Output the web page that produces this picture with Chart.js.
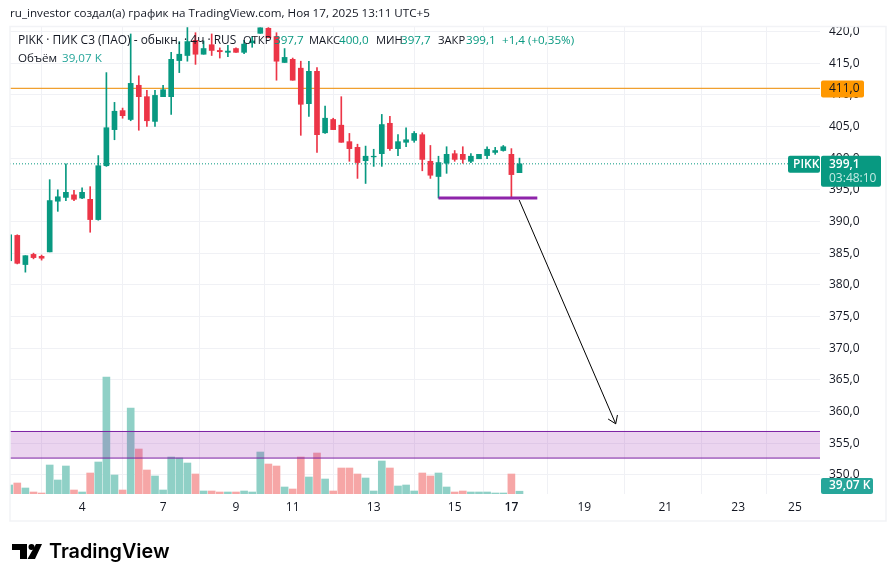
<!DOCTYPE html>
<html lang="ru">
<head>
<meta charset="utf-8">
<title>PIKK 4h</title>
<style>
  html, body { margin: 0; padding: 0; background: #fff; }
  canvas { display: block; }
</style>
</head>
<body>
<canvas id="chart" width="896" height="582"></canvas>
<script src="https://cdn.jsdelivr.net/npm/chart.js@4/dist/chart.umd.min.js"></script>
<script>
// 4h candles, index 0 is the oldest bar
const opens = [383.8, 387.8, 383.2, 384.8, 384.5, 385.2, 393.2, 393.8, 394.2, 393.7, 393.5, 390.3, 398.8, 404.5, 407.5, 406.1,
  411.5, 409.7, 405.8, 409.7, 409.7, 415.4, 416.2, 418.6, 416.4, 417.9, 417.0, 416.7, 417.3, 416.7, 418.2, 419.7,
  420.5, 419.2, 415.1, 415.6, 414.2, 408.6, 413.7, 404.0, 406.1, 405.2, 402.6, 401.7, 399.6, 400.2, 400.7, 405.5,
  401.5, 402.5, 402.8, 403.7, 399.5, 397.1, 399.2, 400.7, 400.6, 399.5, 399.9, 400.4, 400.9, 401.2, 400.6, 397.7];
const highs = [388.0, 387.9, 384.6, 385.0, 384.7, 396.6, 395.0, 399.1, 394.9, 395.3, 395.5, 400.4, 413.5, 408.8, 407.9, 419.6,
  413.0, 410.7, 410.7, 411.5, 416.7, 418.4, 420.7, 419.8, 418.5, 419.6, 417.4, 417.8, 417.4, 418.6, 419.2, 420.7,
  421.7, 419.8, 417.3, 415.8, 415.3, 415.3, 414.3, 408.2, 406.3, 409.7, 403.9, 402.2, 401.9, 401.4, 406.9, 406.6,
  403.7, 404.8, 404.2, 404.0, 402.0, 400.3, 401.8, 401.2, 401.8, 400.7, 400.6, 401.8, 401.7, 402.0, 401.5, 400.0];
const lows = [383.8, 383.3, 382.0, 384.1, 383.9, 385.2, 391.6, 393.3, 393.3, 393.6, 388.3, 390.2, 398.7, 402.9, 406.3, 405.9,
  404.4, 405.0, 405.0, 409.7, 406.9, 413.5, 415.3, 414.8, 416.4, 416.2, 415.8, 416.0, 416.7, 416.5, 417.5, 419.7,
  419.0, 412.3, 415.1, 412.3, 403.6, 406.6, 400.9, 403.9, 404.5, 402.5, 399.5, 396.8, 396.0, 398.7, 398.7, 401.2,
  400.4, 401.8, 402.5, 398.0, 396.8, 393.7, 397.6, 399.5, 399.2, 399.3, 399.9, 399.9, 400.6, 401.1, 393.7, 397.7];
const closes = [387.9, 383.4, 384.6, 384.3, 384.2, 393.3, 393.9, 394.6, 393.5, 394.6, 390.3, 398.8, 404.8, 407.4, 406.7, 411.8,
  409.7, 405.9, 409.9, 410.8, 415.6, 416.4, 418.4, 416.4, 417.3, 417.0, 416.8, 416.9, 416.7, 418.0, 418.5, 420.6,
  419.0, 415.3, 415.9, 412.3, 408.5, 413.7, 403.7, 406.3, 404.5, 402.5, 401.5, 399.3, 400.3, 400.3, 405.3, 401.5,
  402.6, 402.9, 403.9, 399.8, 397.3, 399.3, 400.6, 399.8, 399.8, 400.3, 400.6, 401.4, 401.2, 401.8, 397.4, 399.1];
// thousands of shares
const volumes = [126, 154, 84, 28, 14, 406, 196, 392, 56, 28, 294, 448, 1638, 266, 56, 1204,
  630, 336, 252, 56, 518, 504, 434, 280, 42, 42, 28, 28, 28, 42, 28, 588,
  420, 392, 98, 70, 518, 238, 574, 210, 42, 364, 364, 280, 224, 42, 462, 364,
  112, 126, 42, 294, 252, 294, 98, 28, 42, 28, 28, 28, 14, 14, 280, 39.07];

const priceTicks = [350, 355, 360, 365, 370, 375, 380, 385, 390, 395, 400, 405, 410, 415, 420];
const dayTicks = [9, 19, 28, 35, 45, 55, 62, 71, 81, 90, 97];
const dayLabels = ["4", "7", "9", "11", "13", "15", "17", "19", "21", "23", "25"];

const lastPrice = 399.1;
const resistance = 411;
const supportY = 393.7;
const supportX = [53, 65.2];
const zoneY = [356.85, 352.65];
const arrowX = [62.96, 74.88];
const arrowY = [393.4, 358.06];

const xRange = [0.1, 100.1];
const GREEN = "#089981";
const RED = "#ec3547";
const INK = "#131722";
const FONT = "'Open Sans', sans-serif";
const TEXT_FONT = "11.65px " + FONT;
const CAPS_FONT = "11.2px " + FONT;

const candleColors = opens.map((o, i) => (closes[i] >= o ? GREEN : RED));
const volumeColors = opens.map((o, i) => (closes[i] >= o ? "#8fd0c6" : "#f6a6a6"));

function series(pick) {
  return opens.map((_, i) => ({ x: i, y: pick(i) }));
}

function levelLine(y, color, extra) {
  return Object.assign({
    type: "line",
    yAxisID: "y",
    data: xRange.map((x) => ({ x, y })),
    borderColor: color,
    borderWidth: 1,
    pointRadius: 0,
    order: 1
  }, extra);
}

function drawText(ctx, text, x, y, color, font) {
  ctx.font = font || TEXT_FONT;
  ctx.fillStyle = color;
  ctx.textAlign = "left";
  ctx.textBaseline = "middle";
  ctx.fillText(text, x, y);
}

function drawLogo(ctx) {
  ctx.fillStyle = "#000";
  ctx.beginPath();
  ctx.moveTo(12, 544);
  ctx.lineTo(27, 544);
  ctx.lineTo(27, 559);
  ctx.lineTo(20, 559);
  ctx.lineTo(20, 550);
  ctx.lineTo(12, 550);
  ctx.closePath();
  ctx.fill();
  ctx.beginPath();
  ctx.arc(31.5, 547, 3, 0, Math.PI * 2);
  ctx.fill();
  ctx.beginPath();
  ctx.moveTo(36, 544);
  ctx.lineTo(42, 544);
  ctx.lineTo(35, 559);
  ctx.lineTo(27.5, 559);
  ctx.closePath();
  ctx.fill();
  drawText(ctx, "TradingView", 49, 552, "#000", "600 19.8px Inter, sans-serif");
}

function drawBox(ctx, x, y, w, h, color) {
  ctx.fillStyle = color;
  ctx.beginPath();
  ctx.roundRect(x, y, w, h, 2);
  ctx.fill();
}

// header, legend, axis badges and the arrow head go on top of the datasets
const overlay = {
  id: "overlay",
  afterDraw(chart) {
    const ctx = chart.ctx;
    const x = chart.scales.x;
    const y = chart.scales.y;
    const vol = chart.scales.vol;

    ctx.save();

    // arrow head
    const tipX = x.getPixelForValue(arrowX[1]);
    const tipY = y.getPixelForValue(arrowY[1]);
    const angle = Math.atan2(tipY - y.getPixelForValue(arrowY[0]), tipX - x.getPixelForValue(arrowX[0]));
    ctx.strokeStyle = "#000";
    ctx.lineWidth = 1;
    ctx.beginPath();
    ctx.moveTo(tipX - 9 * Math.cos(angle - 0.6), tipY - 9 * Math.sin(angle - 0.6));
    ctx.lineTo(tipX, tipY);
    ctx.lineTo(tipX - 9 * Math.cos(angle + 0.6), tipY - 9 * Math.sin(angle + 0.6));
    ctx.stroke();

    // top strip, also trims the 420 label
    ctx.fillStyle = "#fff";
    ctx.fillRect(0, 0, 896, 26);
    drawText(ctx, "ru_investor создал(а) график на TradingView.com, Ноя 17, 2025 13:11 UTC+5", 10, 14, INK);

    // pane frame
    ctx.strokeStyle = "#f2f3f6";
    ctx.lineWidth = 1.5;
    ctx.strokeRect(10, 26.5, 876, 494.5);

    // legend
    drawText(ctx, "PIKK · ПИК С3 (ПАО) - обыкн. · 4ч · RUS", 18, 41, INK, "11.95px " + FONT);
    drawText(ctx, "ОТКР", 243, 41, INK, CAPS_FONT);
    drawText(ctx, "397,7", 274, 41, GREEN);
    drawText(ctx, "МАКС", 309, 41, INK, CAPS_FONT);
    drawText(ctx, "400,0", 339, 41, GREEN);
    drawText(ctx, "МИН", 376, 41, INK, CAPS_FONT);
    drawText(ctx, "397,7", 401, 41, GREEN);
    drawText(ctx, "ЗАКР", 438, 41, INK, CAPS_FONT);
    drawText(ctx, "399,1", 466, 41, GREEN);
    drawText(ctx, "+1,4 (+0,35%)", 502, 41, GREEN);
    drawText(ctx, "Объём", 18, 59, INK);
    drawText(ctx, "39,07 K", 62, 59, "#26a69a");

    // resistance badge
    const resY = y.getPixelForValue(resistance);
    drawBox(ctx, 821, resY - 8, 43, 17, "#ff9800");
    drawText(ctx, "411,0", 829, resY + 0.5, INK, "12px " + FONT);

    // last price badges
    const lastY = y.getPixelForValue(lastPrice);
    drawBox(ctx, 788, lastY - 8, 32, 17, GREEN);
    drawText(ctx, "PIKK", 793, lastY + 0.5, "#fff", "600 12px " + FONT);
    drawBox(ctx, 821, lastY - 8, 60, 31, GREEN);
    drawText(ctx, "399,1", 829, lastY + 0.5, "#fff", "600 12px " + FONT);
    drawText(ctx, "03:48:10", 829, lastY + 15, "#c5ebe4", "12px " + FONT);

    // current volume badge
    const volY = vol.getPixelForValue(0);
    drawBox(ctx, 821, volY - 16, 52, 16, "#26a69a");
    drawText(ctx, "39,07 K", 829, volY - 8, "#fff", "600 12px " + FONT);

    drawLogo(ctx);
    ctx.restore();
  }
};

new Chart(document.getElementById("chart"), {
  type: "bar",
  data: {
    datasets: [
      {
        yAxisID: "vol",
        data: series((i) => volumes[i]),
        backgroundColor: volumeColors,
        barThickness: 7,
        grouped: false,
        order: 7
      },
      // zone fill sits under its two edge lines
      {
        type: "line",
        yAxisID: "y",
        data: xRange.map((x) => ({ x, y: zoneY[0] })),
        borderWidth: 0,
        pointRadius: 0,
        backgroundColor: "rgba(156, 39, 176, 0.2)",
        fill: { value: zoneY[1] },
        order: 6
      },
      levelLine(zoneY[0], "#7b1fa2", { order: 5 }),
      levelLine(zoneY[1], "#7b1fa2", { order: 5 }),
      levelLine(resistance, "#f0a030", { order: 4, borderWidth: 1.2 }),
      levelLine(lastPrice, GREEN, { order: 4, borderDash: [1, 2] }),
      {
        yAxisID: "y",
        data: series((i) => [lows[i], highs[i]]),
        backgroundColor: candleColors,
        barThickness: 1,
        grouped: false,
        order: 3
      },
      {
        yAxisID: "y",
        data: series((i) => [opens[i], closes[i]]),
        backgroundColor: candleColors,
        barThickness: 5,
        grouped: false,
        order: 2
      },
      {
        type: "line",
        yAxisID: "y",
        data: supportX.map((x) => ({ x, y: supportY })),
        borderColor: "#8e24aa",
        borderWidth: 3,
        pointRadius: 0,
        order: 1
      },
      {
        type: "line",
        yAxisID: "y",
        data: arrowX.map((x, i) => ({ x, y: arrowY[i] })),
        borderColor: "#000",
        borderWidth: 1,
        pointRadius: 0,
        order: 1
      }
    ]
  },
  options: {
    responsive: false,
    animation: false,
    events: [],
    layout: { padding: { left: 10, top: 27, right: 10, bottom: 61 } },
    plugins: { legend: { display: false }, tooltip: { enabled: false } },
    scales: {
      x: {
        type: "linear",
        min: xRange[0],
        max: xRange[1],
        offset: false,
        afterBuildTicks(scale) {
          scale.ticks = dayTicks.map((value) => ({ value }));
        },
        afterFit(scale) {
          scale.height = 27;
        },
        grid: { color: "#f0f1f5", drawTicks: false },
        border: { display: false },
        ticks: {
          autoSkip: false,
          maxRotation: 0,
          padding: 6,
          color: INK,
          font: (c) => ({ family: FONT, size: 12, weight: dayTicks[c.index] === 62 ? "600" : "400" }),
          callback: (value) => dayLabels[dayTicks.indexOf(value)]
        }
      },
      y: {
        position: "right",
        min: 346.98,
        max: 420.7,
        afterBuildTicks(scale) {
          scale.ticks = priceTicks.map((value) => ({ value }));
        },
        afterFit(scale) {
          scale.width = 66;
        },
        grid: { color: "#f0f1f5", drawTicks: false },
        border: { display: false },
        ticks: {
          autoSkip: false,
          padding: 9,
          color: INK,
          font: { family: FONT, size: 12 },
          callback: (value) => value.toFixed(1).replace(".", ",")
        }
      },
      vol: {
        display: false,
        min: 0,
        max: 6540
      }
    }
  },
  plugins: [overlay]
});
</script>
</body>
</html>
